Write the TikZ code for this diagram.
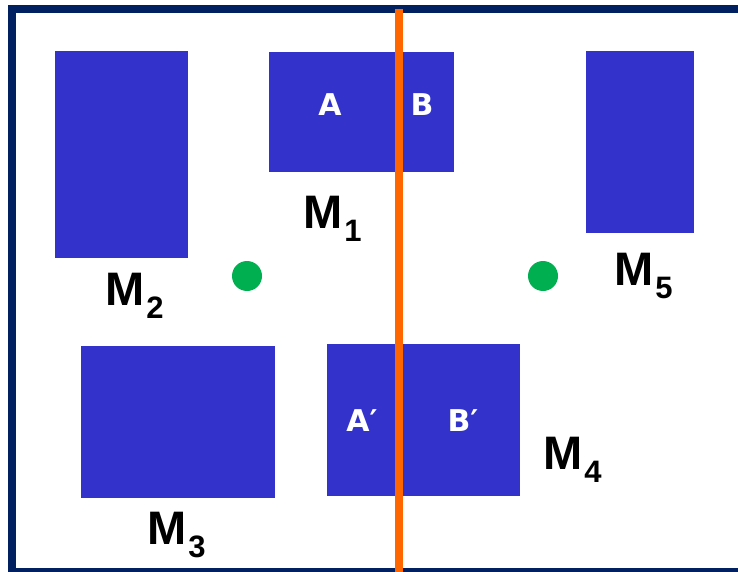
\documentclass[tikz,border=0pt]{standalone}
\usepackage{fontspec}
\newfontfamily\labfont{Liberation Sans}[BoldFont={Liberation Sans Bold}]
\newfontfamily\inlabfont{DejaVu Sans}[BoldFont={DejaVu Sans Bold}]
\definecolor{machblue}{RGB}{51,51,204}
\definecolor{navy}{RGB}{0,32,96}
\definecolor{cutorange}{RGB}{255,102,0}
\definecolor{dotgreen}{RGB}{0,176,80}
\newcommand{\mlab}[1]{{\labfont\bfseries\fontsize{47}{47}\selectfont M}\hspace{2pt}\raisebox{-13pt}{\labfont\bfseries\fontsize{31}{31}\selectfont #1}}
\tikzset{
  machine/.style={fill=machblue, draw=none, inner sep=0pt, anchor=north west},
  inlab/.style={text=white, font=\inlabfont\bfseries\fontsize{30}{30}\selectfont, inner sep=0pt},
  mlabel/.style={anchor=base west, inner sep=0pt, text=black},
  dot/.style={circle, fill=dotgreen, draw=none, minimum size=30pt, inner sep=0pt},
}
\begin{document}
\begin{tikzpicture}[x=1pt,y=-1pt]
\useasboundingbox (0,0) rectangle (738,572);
\clip (0,0) rectangle (738,572);
\fill[white] (0,0) rectangle (738,572);
% frame
\draw[navy, line width=8pt] (12,9) rectangle (745,572);
% machines
\node[machine, minimum width=133pt, minimum height=207pt] (m2) at (55,51) {};
\node[machine, minimum width=185pt, minimum height=120pt] (m1) at (269,52) {};
\node[machine, minimum width=108pt, minimum height=182pt] (m5) at (586,51) {};
\node[machine, minimum width=194pt, minimum height=152pt] (m3) at (81,346) {};
\node[machine, minimum width=193pt, minimum height=152pt] (m4) at (327,344) {};
% inner labels
\node[inlab] (a) at (330,105) {A};
\node[inlab] (b) at (422,105) {B};
\node[inlab] (ap) at (362,421) {A′};
\node[inlab] (bp) at (463,421) {B′};
% green dots
\node[dot] (g1) at (247,276) {};
\node[dot] (g2) at (543,276) {};
% machine labels
\node[mlabel] (l1) at (303,228) {\mlab{1}};
\node[mlabel] (l2) at (105,305) {\mlab{2}};
\node[mlabel] (l3) at (147,544) {\mlab{3}};
\node[mlabel] (l4) at (543,469) {\mlab{4}};
\node[mlabel] (l5) at (614,285) {\mlab{5}};
% cut line
\coordinate (ctop) at (399,9);
\coordinate (cbot) at (399,572);
\draw[cutorange, line width=8pt] (ctop) -- (cbot);
\end{tikzpicture}
\end{document}
